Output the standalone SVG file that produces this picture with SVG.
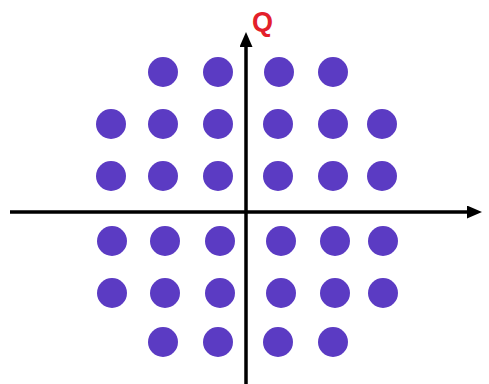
<svg xmlns="http://www.w3.org/2000/svg" width="489" height="384" viewBox="0 0 489 384">
<style>
.pt{fill:#5b3bc3}
.ax{stroke:#000;stroke-width:3.5;fill:none}
.lbl{font-family:"Liberation Sans",Arial,sans-serif;font-weight:bold;fill:#e3202a}
</style>
<defs>
<marker id="ah" markerWidth="15" markerHeight="13" refX="1" refY="6.5" orient="auto" markerUnits="userSpaceOnUse">
<path d="M0,0 L15,6.5 L0,13 Z" fill="#000"/>
</marker>
</defs>
<rect width="489" height="384" fill="#fff"/>
<g id="connectors">
<line class="ax" x1="10" y1="212" x2="468" y2="212" marker-end="url(#ah)"/>
<line class="ax" x1="246" y1="384" x2="246" y2="46" marker-end="url(#ah)"/>
</g>
<g id="label-q"><text class="lbl" x="252" y="31" font-size="27">Q</text></g>
<g id="points">
<circle class="pt" cx="163" cy="72" r="15"/>
<circle class="pt" cx="218" cy="72" r="15"/>
<circle class="pt" cx="279" cy="72" r="15"/>
<circle class="pt" cx="333" cy="72" r="15"/>
<circle class="pt" cx="111" cy="124" r="15"/>
<circle class="pt" cx="163" cy="124" r="15"/>
<circle class="pt" cx="218" cy="124" r="15"/>
<circle class="pt" cx="278" cy="124" r="15"/>
<circle class="pt" cx="333" cy="124" r="15"/>
<circle class="pt" cx="382" cy="124" r="15"/>
<circle class="pt" cx="111" cy="176" r="15"/>
<circle class="pt" cx="163" cy="176" r="15"/>
<circle class="pt" cx="218" cy="176" r="15"/>
<circle class="pt" cx="278" cy="176" r="15"/>
<circle class="pt" cx="333" cy="176" r="15"/>
<circle class="pt" cx="382" cy="176" r="15"/>
<circle class="pt" cx="112" cy="241" r="15"/>
<circle class="pt" cx="165" cy="241" r="15"/>
<circle class="pt" cx="220" cy="241" r="15"/>
<circle class="pt" cx="281" cy="241" r="15"/>
<circle class="pt" cx="335" cy="241" r="15"/>
<circle class="pt" cx="383" cy="241" r="15"/>
<circle class="pt" cx="112" cy="293" r="15"/>
<circle class="pt" cx="165" cy="293" r="15"/>
<circle class="pt" cx="220" cy="293" r="15"/>
<circle class="pt" cx="281" cy="293" r="15"/>
<circle class="pt" cx="335" cy="293" r="15"/>
<circle class="pt" cx="383" cy="293" r="15"/>
<circle class="pt" cx="163" cy="342" r="15"/>
<circle class="pt" cx="218" cy="342" r="15"/>
<circle class="pt" cx="278" cy="342" r="15"/>
<circle class="pt" cx="333" cy="342" r="15"/>
</g>
</svg>
